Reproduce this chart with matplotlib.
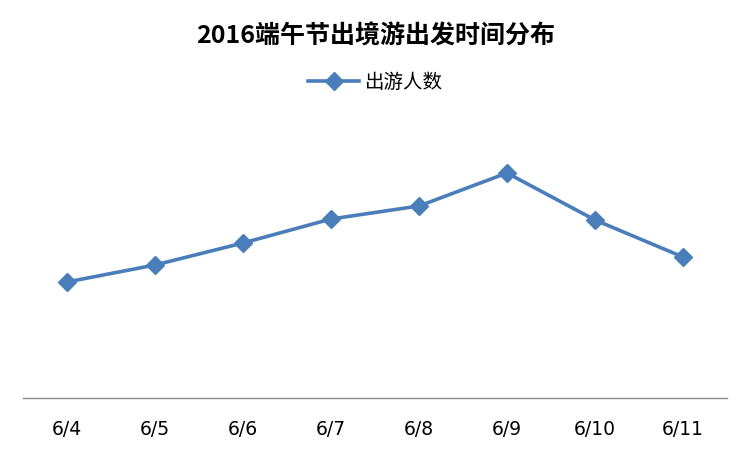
import matplotlib
matplotlib.use("Agg")
import matplotlib.pyplot as plt

plt.rcParams['font.family'] = ['Noto Sans CJK SC', 'DejaVu Sans']

categories = ["6/4", "6/5", "6/6", "6/7", "6/8", "6/9", "6/10", "6/11"]
values = [116, 133, 155, 179, 192, 225, 178, 141]
series_name = "出游人数"
title = "2016端午节出境游出发时间分布"

fig = plt.figure(figsize=(7.51, 4.51), dpi=100)
ax = fig.add_axes([23/751, 53/451, 704/751, 290/451])
x = list(range(len(categories)))
ax.plot(x, values, color="#4A7EBB", linewidth=2.6, marker="D", markersize=9,
        markerfacecolor="#4A7EBB", markeredgecolor="#4A7EBB", label=series_name)
ax.set_xlim(-0.5, len(categories) - 0.5)
ax.set_ylim(0, 290)
ax.set_xticks(x)
ax.set_xticklabels(categories, fontsize=13.5, family=['DejaVu Sans'])
ax.tick_params(axis='x', length=0, pad=16)
ax.set_yticks([])
for s in ["top", "right", "left"]:
    ax.spines[s].set_visible(False)
ax.spines["bottom"].set_color("#868686")
ax.spines["bottom"].set_linewidth(1)

fig.text(0.5, 1 - 36/451, title, ha="center", va="center", fontsize=18, fontweight="bold")
leg = fig.legend(loc="center", bbox_to_anchor=(0.5, 1 - 82/451), frameon=False,
                 fontsize=14, handlelength=2.6, handletextpad=0.3)

fig.savefig("out.png", dpi=100)
